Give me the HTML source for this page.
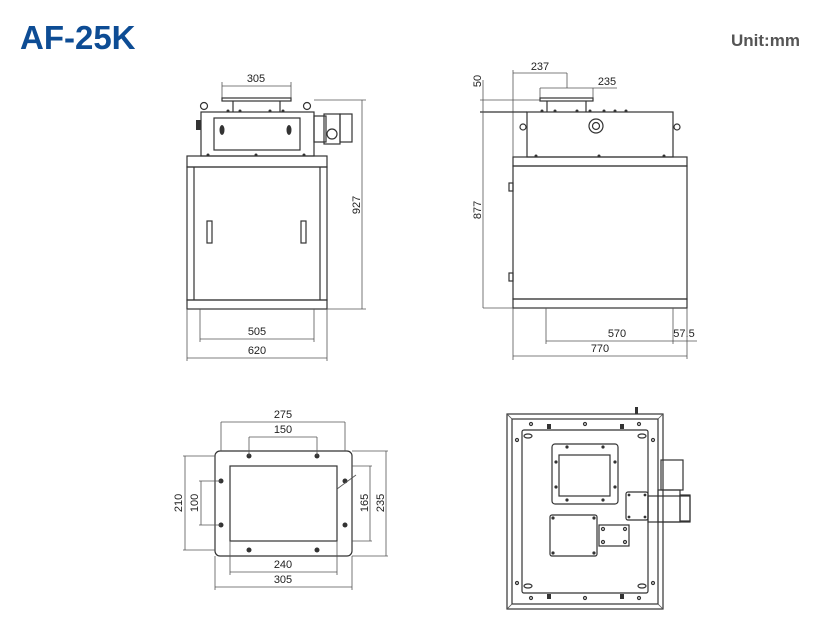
<!DOCTYPE html>
<html><head><meta charset="utf-8"><style>
body{margin:0;background:#fff;width:838px;height:632px;overflow:hidden}
svg{display:block}
.l{stroke:#333;stroke-width:1.2;fill:none}
.t{stroke:#555;stroke-width:.8;fill:none}
.d{font-family:"Liberation Sans",sans-serif;font-size:11px;fill:#222;text-anchor:middle}
.b{fill:#333}
</style></head><body>
<svg width="838" height="632" viewBox="0 0 838 632">
<text x="20" y="49" font-family="Liberation Sans,sans-serif" font-weight="bold" font-size="33" fill="#0d4c94">AF-25K</text>
<text x="731" y="46" font-family="Liberation Sans,sans-serif" font-weight="bold" font-size="17" fill="#555">Unit:mm</text>

<!-- FRONT VIEW -->
<g>
<line class="t" x1="222" y1="86" x2="291" y2="86"/><line class="t" x1="222" y1="82" x2="222" y2="99"/><line class="t" x1="291" y1="82" x2="291" y2="99"/>
<text class="d" x="256" y="82">305</text>
<rect class="l" x="222" y="98" width="69" height="3"/>
<line class="l" x1="233" y1="101" x2="233" y2="112"/><line class="l" x1="280" y1="101" x2="280" y2="112"/>
<circle class="l" cx="204" cy="106" r="3.5"/><circle class="l" cx="307" cy="106" r="3.5"/>
<rect class="l" x="201" y="112" width="113" height="44"/>
<rect class="l" x="214" y="118" width="86" height="32"/>
<ellipse class="b" cx="222" cy="130" rx="2.5" ry="5"/><ellipse class="b" cx="289" cy="130" rx="2.5" ry="5"/>
<rect class="b" x="196" y="120" width="5" height="10"/>
<g class="b"><circle cx="228" cy="111" r="1.5"/><circle cx="240" cy="111" r="1.5"/><circle cx="270" cy="111" r="1.5"/><circle cx="283" cy="111" r="1.5"/><circle cx="208" cy="155" r="1.5"/><circle cx="256" cy="155" r="1.5"/><circle cx="304" cy="155" r="1.5"/></g>
<rect class="l" x="314" y="116" width="12" height="26"/><rect class="l" x="324" y="114" width="16" height="30"/><rect class="l" x="340" y="114" width="12" height="28"/>
<circle class="l" cx="332" cy="134" r="5"/>
<rect class="l" x="187" y="156" width="140" height="11"/>
<rect class="l" x="187" y="167" width="140" height="133"/>
<line class="l" x1="194" y1="167" x2="194" y2="300"/><line class="l" x1="320" y1="167" x2="320" y2="300"/>
<rect class="l" x="207" y="221" width="5" height="22"/><rect class="l" x="301" y="221" width="5" height="22"/>
<rect class="l" x="187" y="300" width="140" height="9"/>
<line class="t" x1="314" y1="100" x2="366" y2="100"/><line class="t" x1="327" y1="309" x2="366" y2="309"/>
<line class="t" x1="362" y1="100" x2="362" y2="309"/>
<text class="d" transform="translate(360,205) rotate(-90)">927</text>
<line class="t" x1="200" y1="309" x2="200" y2="342"/><line class="t" x1="314" y1="309" x2="314" y2="342"/>
<line class="t" x1="200" y1="339" x2="314" y2="339"/><text class="d" x="257" y="335">505</text>
<line class="t" x1="187" y1="309" x2="187" y2="361"/><line class="t" x1="327" y1="309" x2="327" y2="361"/>
<line class="t" x1="187" y1="358" x2="327" y2="358"/><text class="d" x="257" y="354">620</text>
</g>

<!-- SIDE VIEW -->
<g>
<line class="t" x1="513" y1="70" x2="513" y2="360"/>
<line class="t" x1="513" y1="73" x2="567" y2="73"/><line class="t" x1="567" y1="73" x2="567" y2="88"/>
<text class="d" x="540" y="70">237</text>
<line class="t" x1="540" y1="88" x2="617" y2="88"/><line class="t" x1="540" y1="88" x2="540" y2="100"/><line class="t" x1="593" y1="88" x2="593" y2="100"/>
<text class="d" x="607" y="85">235</text>
<rect class="l" x="540" y="98" width="53" height="3"/>
<line class="l" x1="547" y1="101" x2="547" y2="112"/><line class="l" x1="586" y1="101" x2="586" y2="112"/>
<line class="t" x1="480" y1="100" x2="540" y2="100"/><line class="l" x1="480" y1="112" x2="527" y2="112"/>
<line class="t" x1="483" y1="80" x2="483" y2="308"/>
<text class="d" transform="translate(481,81) rotate(-90)">50</text>
<text class="d" transform="translate(481,210) rotate(-90)">877</text>
<rect class="l" x="527" y="112" width="146" height="45"/>
<g class="b"><circle cx="542" cy="111" r="1.5"/><circle cx="555" cy="111" r="1.5"/><circle cx="577" cy="111" r="1.5"/><circle cx="590" cy="111" r="1.5"/><circle cx="604" cy="111" r="1.5"/><circle cx="615" cy="111" r="1.5"/><circle cx="626" cy="111" r="1.5"/><circle cx="536" cy="156" r="1.5"/><circle cx="599" cy="156" r="1.5"/><circle cx="664" cy="156" r="1.5"/></g>
<circle class="l" cx="596" cy="126" r="7"/><circle class="l" cx="596" cy="126" r="3.5"/>
<circle class="l" cx="523" cy="127" r="3"/><circle class="l" cx="677" cy="127" r="3"/>
<rect class="l" x="513" y="157" width="174" height="9"/>
<rect class="l" x="513" y="166" width="174" height="133"/>
<rect class="l" x="509" y="183" width="4" height="8"/><rect class="l" x="509" y="273" width="4" height="8"/>
<rect class="l" x="513" y="299" width="174" height="9"/>
<line class="t" x1="483" y1="308" x2="513" y2="308"/>
<line class="t" x1="546" y1="308" x2="546" y2="344"/><line class="t" x1="673" y1="308" x2="673" y2="344"/>
<line class="t" x1="546" y1="341" x2="697" y2="341"/><text class="d" x="617" y="337">570</text>
<text class="d" x="684" y="337">57.5</text>
<line class="t" x1="687" y1="308" x2="687" y2="359"/>
<line class="t" x1="513" y1="356" x2="687" y2="356"/><text class="d" x="600" y="352">770</text>
</g>

<!-- FLANGE VIEW -->
<g>
<rect class="l" x="215" y="451" width="137" height="105" rx="5"/>
<rect class="l" x="230" y="466" width="107" height="75"/>
<g class="b"><circle cx="249" cy="456" r="2.5"/><circle cx="317" cy="456" r="2.5"/><circle cx="249" cy="550" r="2.5"/><circle cx="317" cy="550" r="2.5"/><circle cx="221" cy="481" r="2.5"/><circle cx="221" cy="525" r="2.5"/><circle cx="345" cy="481" r="2.5"/><circle cx="345" cy="525" r="2.5"/></g>
<line class="t" x1="337" y1="489" x2="356" y2="475"/>
<line class="t" x1="221" y1="422" x2="345" y2="422"/><line class="t" x1="221" y1="422" x2="221" y2="451"/><line class="t" x1="345" y1="422" x2="345" y2="451"/>
<text class="d" x="283" y="418">275</text>
<line class="t" x1="249" y1="437" x2="317" y2="437"/><line class="t" x1="249" y1="437" x2="249" y2="456"/><line class="t" x1="317" y1="437" x2="317" y2="456"/>
<text class="d" x="283" y="433">150</text>
<line class="t" x1="185" y1="456" x2="185" y2="550"/><line class="t" x1="183" y1="456" x2="215" y2="456"/><line class="t" x1="183" y1="550" x2="215" y2="550"/>
<text class="d" transform="translate(182,503) rotate(-90)">210</text>
<line class="t" x1="201" y1="481" x2="201" y2="525"/><line class="t" x1="199" y1="481" x2="221" y2="481"/><line class="t" x1="199" y1="525" x2="221" y2="525"/>
<text class="d" transform="translate(198,503) rotate(-90)">100</text>
<line class="t" x1="370" y1="466" x2="370" y2="541"/><line class="t" x1="352" y1="466" x2="372" y2="466"/><line class="t" x1="352" y1="541" x2="372" y2="541"/>
<text class="d" transform="translate(368,503) rotate(-90)">165</text>
<line class="t" x1="386" y1="451" x2="386" y2="556"/><line class="t" x1="352" y1="451" x2="388" y2="451"/><line class="t" x1="352" y1="556" x2="388" y2="556"/>
<text class="d" transform="translate(384,503) rotate(-90)">235</text>
<line class="t" x1="230" y1="541" x2="230" y2="575"/><line class="t" x1="337" y1="541" x2="337" y2="575"/>
<line class="t" x1="230" y1="572" x2="337" y2="572"/><text class="d" x="283" y="568">240</text>
<line class="t" x1="215" y1="556" x2="215" y2="590"/><line class="t" x1="352" y1="556" x2="352" y2="590"/>
<line class="t" x1="215" y1="587" x2="352" y2="587"/><text class="d" x="283" y="583">305</text>
</g>

<!-- TOP VIEW -->
<g>
<rect class="l" x="507" y="414" width="156" height="195"/>
<rect class="l" x="512" y="419" width="146" height="185"/>
<line class="t" x1="507" y1="414" x2="512" y2="419"/><line class="t" x1="663" y1="414" x2="658" y2="419"/><line class="t" x1="507" y1="609" x2="512" y2="604"/><line class="t" x1="663" y1="609" x2="658" y2="604"/>
<rect class="l" x="522" y="430" width="126" height="163" rx="2"/>
<rect class="l" x="552" y="444" width="66" height="60" rx="3"/>
<rect class="l" x="559" y="455" width="51" height="41"/>
<g class="b"><circle cx="567" cy="447" r="1.6"/><circle cx="603" cy="447" r="1.6"/><circle cx="567" cy="500" r="1.6"/><circle cx="603" cy="500" r="1.6"/><circle cx="556" cy="462" r="1.6"/><circle cx="556" cy="487" r="1.6"/><circle cx="615" cy="462" r="1.6"/><circle cx="615" cy="487" r="1.6"/></g>
<rect class="l" x="550" y="515" width="47" height="41" rx="2"/>
<g class="b"><circle cx="553" cy="518" r="1.6"/><circle cx="594" cy="518" r="1.6"/><circle cx="553" cy="553" r="1.6"/><circle cx="594" cy="553" r="1.6"/></g>
<rect class="l" x="599" y="525" width="30" height="21"/>
<g class="l"><circle cx="603" cy="529" r="1.5"/><circle cx="625" cy="529" r="1.5"/><circle cx="603" cy="542" r="1.5"/><circle cx="625" cy="542" r="1.5"/></g>
<g class="l"><circle cx="531" cy="424" r="1.5"/><circle cx="585" cy="424" r="1.5"/><circle cx="639" cy="424" r="1.5"/><circle cx="531" cy="598" r="1.5"/><circle cx="585" cy="598" r="1.5"/><circle cx="639" cy="598" r="1.5"/><circle cx="517" cy="440" r="1.5"/><circle cx="653" cy="440" r="1.5"/><circle cx="517" cy="583" r="1.5"/><circle cx="653" cy="583" r="1.5"/></g>
<g class="b"><rect x="547" y="424" width="4" height="5"/><rect x="620" y="424" width="4" height="5"/><rect x="547" y="594" width="4" height="5"/><rect x="620" y="594" width="4" height="5"/><rect x="635" y="407" width="3" height="7"/></g>
<ellipse class="l" cx="528" cy="436" rx="4" ry="2"/><ellipse class="l" cx="642" cy="436" rx="4" ry="2"/><ellipse class="l" cx="528" cy="586" rx="4" ry="2"/><ellipse class="l" cx="642" cy="586" rx="4" ry="2"/>
<rect class="l" x="626" y="492" width="22" height="28" rx="2"/>
<g class="b"><circle cx="629" cy="495" r="1.4"/><circle cx="645" cy="495" r="1.4"/><circle cx="629" cy="517" r="1.4"/><circle cx="645" cy="517" r="1.4"/></g>
<rect class="l" x="661" y="460" width="22" height="30"/>
<rect class="l" x="648" y="496" width="42" height="26"/>
<rect class="l" x="658" y="490" width="22" height="32"/>
<rect class="l" x="680" y="495" width="10" height="26"/>
</g>
</svg>
</body></html>
